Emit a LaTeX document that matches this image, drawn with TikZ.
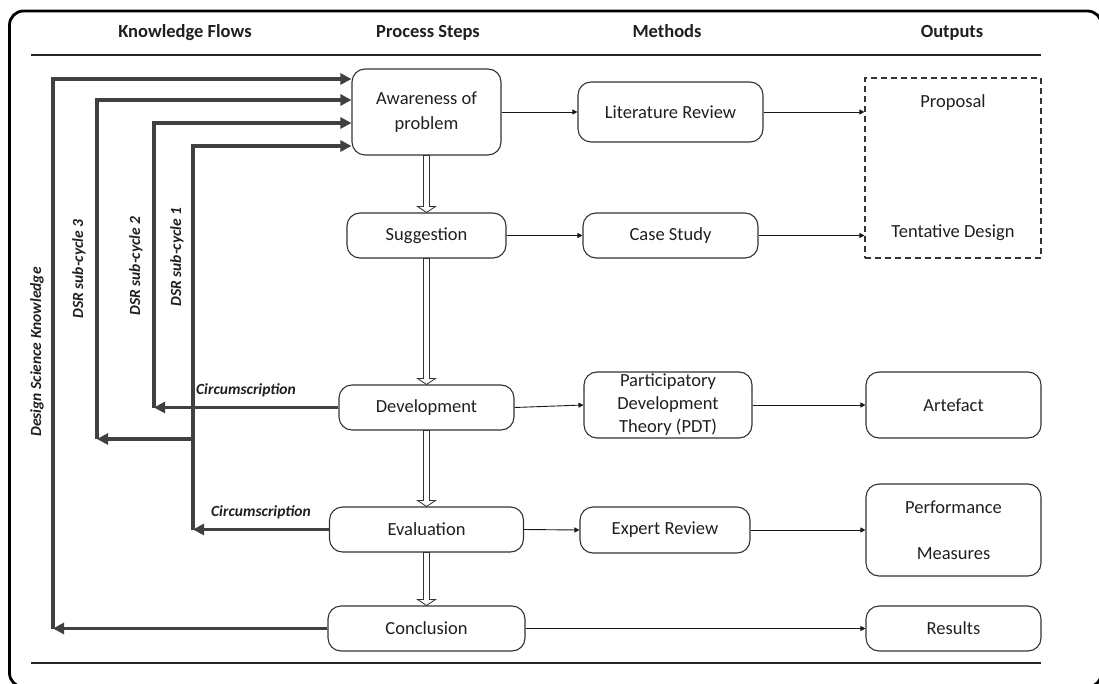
\documentclass[tikz,border=0pt]{standalone}
\usepackage{fontspec}
\setmainfont{Carlito}
\usetikzlibrary{arrows.meta,calc}
\begin{document}
\begin{tikzpicture}[x=1pt,y=-1pt,
  every node/.style={font=\fontsize{18.5}{25}\selectfont, text=black!88},
  box/.style={draw=black!80, line width=1.1pt, rounded corners=13pt,
    align=center, inner sep=0pt},
  head/.style={font=\bfseries\fontsize{18.5}{22}\selectfont, anchor=base},
  flowlabel/.style={font=\bfseries\itshape\fontsize{15.5}{18}\selectfont},
  link/.style={draw=black!90, line width=0.9pt, -{Triangle[length=5pt,width=5pt]}},
  fb/.style={draw=black!75, line width=3.6pt},
  fbarrow/.style={fb, -{Triangle[length=11pt,width=11pt]}},
  hollow/.style={draw=black!80, line width=0.8pt, fill=white}
]
\useasboundingbox (0,0) rectangle (1099,684);
\clip (0,0) rectangle (1099,684);

% frame and column rules
\draw[line width=2.8pt, rounded corners=14pt] (9.5,11) rectangle (1101.5,687);
\draw[line width=1.3pt, black!85] (31,55) -- (1041,55);
\draw[line width=1.3pt, black!85] (31,663) -- (1041,663);

% column headings
\node[head] (hk) at (185,38) {Knowledge Flows};
\node[head] (hp) at (428,38) {Process Steps};
\node[head] (hm) at (667,38) {Methods};
\node[head] (ho) at (952,38) {Outputs};

% process steps
\node[box, minimum width=149, minimum height=86] (aw) at (426.5,112) {Awareness of\\problem};
\node[box, minimum width=159, minimum height=45] (sg) at (426.5,235.5) {Suggestion};
\node[box, minimum width=175, minimum height=45] (dv) at (426.5,407.5) {Development};
\node[box, minimum width=194, minimum height=45] (ev) at (426.5,529.5) {Evaluation};
\node[box, minimum width=197, minimum height=45] (cc) at (426.5,628.5) {Conclusion};

% methods
\node[box, minimum width=185, minimum height=60] (lr) at (670.5,112) {Literature Review};
\node[box, minimum width=175, minimum height=45] (cs) at (670.5,235.5) {Case Study};
\node[box, minimum width=168, minimum height=66,
  font=\fontsize{18.5}{23}\selectfont] (pdt) at (668,405) {Participatory\\Development\\Theory (PDT)};
\node[box, minimum width=170, minimum height=46] (er) at (665,530) {Expert Review};

% outputs
\node[draw=black!80, dash pattern=on 6pt off 4pt, line width=1.1pt, minimum width=176,
  minimum height=180, inner sep=0pt] (out) at (953,168) {};
\node (prop) at (953,103) {Proposal};
\node (tent) at (953,233) {Tentative Design};
\node[box, minimum width=175, minimum height=66] (art) at (953.5,405) {Artefact};
\node[box, minimum width=175, minimum height=92] (pm) at (953.5,530) {Performance\\[21pt]Measures};
\node[box, minimum width=175, minimum height=45] (res) at (953.5,628.5) {Results};

% step-to-method-to-output links
\draw[link] (aw.east) -- (lr.west);
\draw[link] (lr.east) -- (lr.east -| out.west);
\draw[link] (sg.east) -- (cs.west);
\draw[link] (cs.east) -- (cs.east -| out.west);
\draw[link] (dv.east) -- (pdt.west);
\draw[link] (pdt.east) -- (art.west);
\draw[link] (ev.east) -- (er.west);
\draw[link] (er.east) -- (pm.west);
\draw[link] (cc.east) -- (res.west);

% hollow arrows between process steps
\newcommand\hollowdown[2]{%
  \draw[hollow] ($(#1.south)+(-3,0)$) -- ($(#1.south |- #2.north)+(-3,-6)$)
    -- ($(#1.south |- #2.north)+(-9,-6)$) -- (#1.south |- #2.north)
    -- ($(#1.south |- #2.north)+(9,-6)$) -- ($(#1.south |- #2.north)+(3,-6)$)
    -- ($(#1.south)+(3,0)$) -- cycle;}
\hollowdown{aw}{sg}
\hollowdown{sg}{dv}
\hollowdown{dv}{ev}
\hollowdown{ev}{cc}

% knowledge flow lines
\coordinate (k3) at (53,79);
\coordinate (k2) at (97,100);
\coordinate (k1) at (154,123);
\coordinate (k0) at (193,146);
\coordinate (c3) at (193,439);

\draw[fbarrow] (cc.west) -- (cc.west -| k3);
\draw[fbarrow] (cc.west -| k3) -- (k3) -- (k3 -| aw.west);

\draw[fbarrow] (c3) -- (c3 -| k2);
\draw[fbarrow] (c3 -| k2) -- (k2) -- (k2 -| aw.west);

\draw[fbarrow] (dv.west) -- (dv.west -| k1);
\draw[fbarrow] (dv.west -| k1) -- (k1) -- (k1 -| aw.west);

\draw[fbarrow] (ev.west) -- (ev.west -| k0);
\draw[fbarrow] (ev.west -| k0) -- (k0) -- (k0 -| aw.west);

% flow labels
\node[flowlabel, rotate=90] (ldsk) at (37,352) {Design Science Knowledge};
\node[flowlabel, rotate=90] (ls3) at (79,269) {DSR sub-cycle 3};
\node[flowlabel, rotate=90] (ls2) at (136,266) {DSR sub-cycle 2};
\node[flowlabel, rotate=90] (ls1) at (177,257) {DSR sub-cycle 1};
\node[flowlabel] (lc1) at (246,390) {Circumscription};
\node[flowlabel] (lc2) at (261,512) {Circumscription};
\end{tikzpicture}
\end{document}
